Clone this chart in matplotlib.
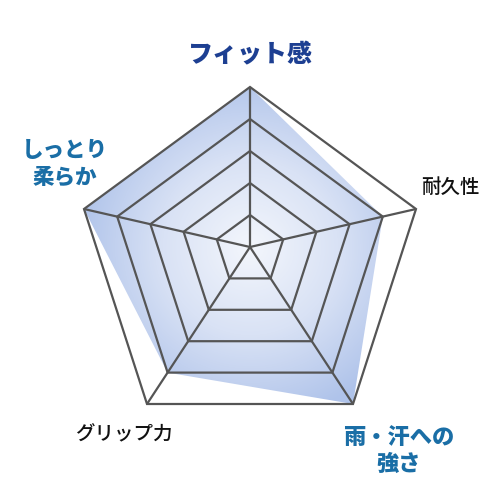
import numpy as np
import matplotlib
matplotlib.use("Agg")
import matplotlib.pyplot as plt
from matplotlib.patches import Polygon
from matplotlib.colors import LinearSegmentedColormap

# ---- data ----
categories = ["フィット感", "耐久性", "雨・汗への\n強さ", "グリップ力", "しっとり\n柔らか"]
values = [5, 4, 5, 4, 5]
max_value = 5
ring_levels = [1, 2, 3, 4, 5]

# ---- layout (pixel space, y down) ----
center = np.array([250.0, 247.0])
axis_vectors = np.array([
    [0.0, -160.0],
    [166.0, -38.0],
    [103.0, 157.0],
    [-103.0, 157.0],
    [-166.0, -38.0],
])
label_pos = [(250, 54), (450, 187), (399, 451), (124, 435), (65, 164)]
label_colors = ["#1d3f92", "#111111", "#1a6ea6", "#111111", "#1a6ea6"]
label_weights = ["heavy", "medium", "heavy", "medium", "heavy"]
label_sizes = [18, 14, 16, 14, 15.5]

def project(vals):
    vals = np.asarray(vals, dtype=float)[:, None]
    return center + axis_vectors * vals / max_value

plt.rcParams["font.family"] = ["Noto Sans CJK JP", "DejaVu Sans"]
fig = plt.figure(figsize=(5, 5), dpi=100)
ax = fig.add_axes([0, 0, 1, 1])
ax.set_xlim(0, 500)
ax.set_ylim(500, 0)
ax.axis("off")

# filled data polygon with radial gradient
pts = project(values)
poly = Polygon(pts, closed=True, facecolor="none", edgecolor="none")
ax.add_patch(poly)
yy, xx = np.mgrid[0:500, 0:500]
r = np.hypot(xx - center[0], yy - center[1]) / 175.0
r = np.clip(r, 0, 1)
cmap = LinearSegmentedColormap.from_list("g", ["#f3f6fc", "#d9e2f5", "#afc3ea"])
im = ax.imshow(r, cmap=cmap, extent=(0, 500, 500, 0), origin="upper",
               vmin=0, vmax=1, zorder=1, interpolation="bilinear")
im.set_clip_path(poly)

# grid rings
for lv in ring_levels:
    ring = project([lv] * len(categories))
    ax.add_patch(Polygon(ring, closed=True, facecolor="none",
                         edgecolor="#555555", linewidth=1.6, zorder=3,
                         joinstyle="miter"))
# spokes
outer = project([max_value] * len(categories))
for p in outer:
    ax.plot([center[0], p[0]], [center[1], p[1]], color="#555555",
            linewidth=1.6, zorder=3, solid_capstyle="butt")

# labels
for cat, pos, c, w, s in zip(categories, label_pos, label_colors, label_weights, label_sizes):
    ax.text(pos[0], pos[1], cat, ha="center", va="center", color=c,
            fontweight=w, fontsize=s, linespacing=1.2, zorder=4)

fig.savefig("out.png", dpi=100)
